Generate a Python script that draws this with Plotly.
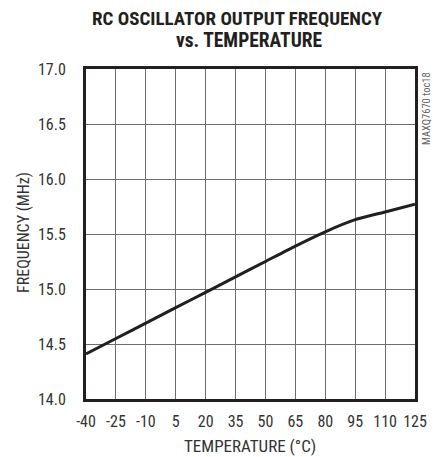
import plotly.graph_objects as go

temperature = [-40, -25, -10, 5, 20, 35, 50, 65, 80, 95, 110, 125]
frequency = [14.41, 14.55, 14.69, 14.83, 14.97, 15.11, 15.25, 15.39, 15.52, 15.63, 15.70, 15.77]
x_ticks = [-40, -25, -10, 5, 20, 35, 50, 65, 80, 95, 110, 125]
y_ticks = [14.0, 14.5, 15.0, 15.5, 16.0, 16.5, 17.0]

FONT = "Roboto Condensed, Liberation Sans Narrow, Arial Narrow, sans-serif"
DARK = "#231f20"
GRID = "#6d6d6d"

# page has an 8px body margin, so the figure is shrunk/shifted by 8px
W, H = 433, 449
L, R, T, B = 78, 26, 61, 58
PW = W - L - R   # plot width in px
PH = H - T - B   # plot height in px

def px_x(fx):
    return (fx - L) / PW

def px_y(fy):
    return (H - B - fy) / PH

fig = go.Figure()
fig.add_trace(go.Scatter(
    x=temperature, y=frequency, mode="lines",
    line=dict(color=DARK, width=3, shape="spline", smoothing=0.6),
    hoverinfo="skip", showlegend=False,
))

fig.update_layout(
    width=W, height=H,
    margin=dict(l=L, r=R, t=T, b=B),
    paper_bgcolor="white", plot_bgcolor="white",
    font=dict(family=FONT, color=DARK, size=16),
    xaxis=dict(
        range=[-40, 125], tickvals=x_ticks, ticktext=[str(v) for v in x_ticks],
        showgrid=True, gridcolor=GRID, gridwidth=1,
        showline=True, linecolor=DARK, linewidth=3, mirror=True,
        ticks="", ticklabelstandoff=6,
        zeroline=False, fixedrange=True,
        tickfont=dict(size=16, color="#333333"),
    ),
    yaxis=dict(
        range=[14.0, 17.0], tickvals=y_ticks, ticktext=[f"{v:.1f}" for v in y_ticks],
        showgrid=True, gridcolor=GRID, gridwidth=1,
        showline=True, linecolor=DARK, linewidth=3, mirror=True,
        ticks="", ticklabelstandoff=14,
        zeroline=False, fixedrange=True,
        tickfont=dict(size=16, color="#333333"),
    ),
    annotations=[
        dict(text="<b>RC OSCILLATOR OUTPUT FREQUENCY</b>",
             xref="paper", yref="paper", x=px_x(229), y=px_y(10),
             xanchor="center", yanchor="middle", showarrow=False,
             font=dict(size=19, color=DARK, family=FONT)),
        dict(text="<b>vs. TEMPERATURE</b>",
             xref="paper", yref="paper", x=px_x(241), y=px_y(33),
             xanchor="center", yanchor="middle", showarrow=False,
             font=dict(size=19.5, color=DARK, family=FONT)),
        dict(text="TEMPERATURE (°C)",
             xref="paper", yref="paper", x=px_x(242), y=px_y(438),
             xanchor="center", yanchor="middle", showarrow=False,
             font=dict(size=17, color="#333333", family=FONT)),
        dict(text="FREQUENCY (MHz)", textangle=-90,
             xref="paper", yref="paper", x=px_x(15), y=px_y(225),
             xanchor="center", yanchor="middle", showarrow=False,
             font=dict(size=16, color="#333333", family=FONT)),
        dict(text="MAXQ7670 toc18", textangle=-90,
             xref="paper", yref="paper", x=px_x(410), y=px_y(62),
             xanchor="left", yanchor="top", showarrow=False,
             font=dict(size=10.5, color="#666666", family=FONT)),
    ],
)

fig.write_html("out.html")
